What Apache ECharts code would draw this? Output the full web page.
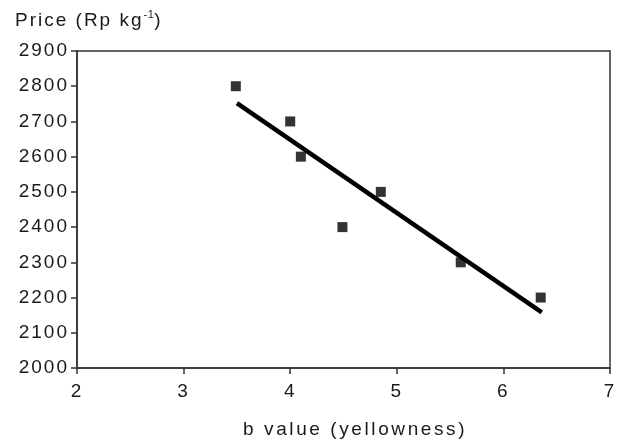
<!DOCTYPE html>
<html>
<head>
<meta charset="utf-8">
<script src="https://cdn.jsdelivr.net/npm/echarts@6/dist/echarts.min.js"></script>
<style>html,body{margin:0;padding:0;background:#fff}#c{width:624px;height:444px}</style>
</head>
<body>
<div id="c"></div>
<script>
// ---- data ----
var bValues = [3.49, 4.0, 4.1, 4.49, 4.85, 5.6, 6.35];
var prices  = [2800, 2700, 2600, 2400, 2500, 2300, 2200];
var trendX = [3.5, 6.36];
var trendY = [2752, 2158];
var xTicks = [2, 3, 4, 5, 6, 7];
var yTicks = [2000, 2100, 2200, 2300, 2400, 2500, 2600, 2700, 2800, 2900];
var xTitle = 'b value (yellowness)';
var yTitleMain = 'Price (Rp kg';
var yTitleSup = '-1';

// letter spacing for canvas text (the reference uses spaced lettering)
(function(){
  var P = CanvasRenderingContext2D.prototype;
  var ft = P.fillText, mt = P.measureText;
  function ls(ctx){
    if (!('letterSpacing' in ctx)) return;
    var f = ctx.font || '';
    var m = /(\d+(\.\d+)?)px/.exec(f);
    var s = m ? parseFloat(m[1]) : 12;
    if (f.indexOf('Arimo') >= 0) ctx.letterSpacing = '2.6px';
    else ctx.letterSpacing = s >= 14 ? '2px' : '0.5px';
  }
  P.fillText = function(){ ls(this); return ft.apply(this, arguments); };
  P.measureText = function(){ ls(this); return mt.apply(this, arguments); };
})();

var scatterData = bValues.map(function(v, i){ return [v, prices[i]]; });
var trendData = trendX.map(function(v, i){ return [v, trendY[i]]; });

var FONT = "'Liberation Sans', Arial, sans-serif";
var FONT2 = "Arimo, 'Liberation Sans', Arial, sans-serif";
var TXT = '#1a1a1a';
var chart = echarts.init(document.getElementById('c'), null, {renderer: 'canvas'});
chart.setOption({
  animation: false,
  backgroundColor: '#fff',
  grid: {left: 77, right: 14, top: 51, bottom: 76, show: true, borderColor: '#333', borderWidth: 1.5, backgroundColor: 'transparent'},
  xAxis: {
    type: 'value', min: xTicks[0], max: xTicks[xTicks.length - 1], interval: 1,
    splitLine: {show: false},
    axisLine: {show: true, lineStyle: {color: '#333', width: 1.5}},
    axisTick: {show: true, inside: false, length: 6, lineStyle: {color: '#333', width: 1.5}},
    axisLabel: {color: TXT, fontSize: 19, fontFamily: FONT, margin: 13, formatter: function(v){ return String(v); }}
  },
  yAxis: {
    type: 'value', min: yTicks[0], max: yTicks[yTicks.length - 1], interval: 100,
    splitLine: {show: false},
    axisLine: {show: true, lineStyle: {color: '#333', width: 1.5}},
    axisTick: {show: true, inside: false, length: 6, lineStyle: {color: '#333', width: 1.5}},
    axisLabel: {color: TXT, fontSize: 19, fontFamily: FONT, margin: 8, formatter: function(v){ return String(v); }}
  },
  graphic: [
    {type: 'text', left: 15, top: 9, style: {
      text: '{a|' + yTitleMain + '}{s|' + yTitleSup + '}{a|)}',
      rich: {
        a: {fontSize: 19, fontFamily: FONT, fill: TXT, lineHeight: 22, verticalAlign: 'bottom'},
        s: {fontSize: 11, fontFamily: FONT, fill: TXT, lineHeight: 22, verticalAlign: 'top', padding: [0,0,9,0]}
      }
    }},
    {type: 'text', left: 243, top: 419, style: {
      text: xTitle, fontSize: 19, fontFamily: FONT2, fill: TXT
    }}
  ],
  series: [
    {type: 'line', data: trendData, showSymbol: false, symbol: 'none',
     lineStyle: {color: '#000', width: 4.5, cap: 'butt'}, z: 2},
    {type: 'scatter', data: scatterData, symbol: 'rect', symbolSize: 10,
     itemStyle: {color: '#000'}, z: 3}
  ]
});
</script>
</body>
</html>
